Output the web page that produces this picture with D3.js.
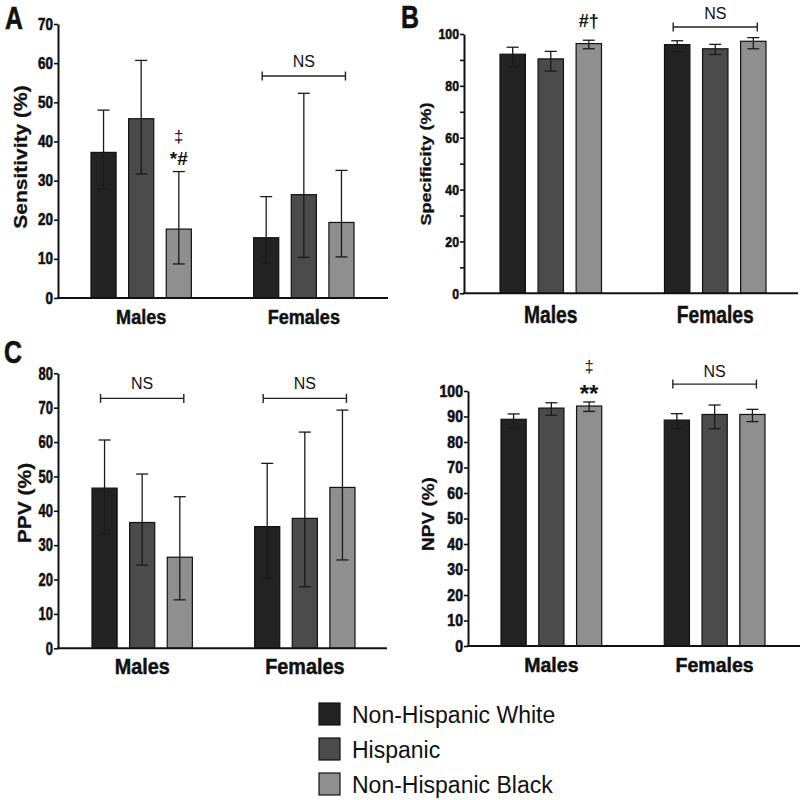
<!DOCTYPE html>
<html><head><meta charset="utf-8">
<script src="https://cdn.jsdelivr.net/npm/d3@7"></script>
<style>body{margin:0;background:#fff}svg{display:block}text{font-family:"Liberation Sans",Arial,sans-serif}</style>
</head><body><svg id="c" width="800" height="800"></svg>
<script>
// ---------- data ----------
const groups = ["Males", "Females"];
const races = ["Non-Hispanic White", "Hispanic", "Non-Hispanic Black"];
const raceColors = ["#232323", "#4b4b4b", "#8f8f8f"];

const sensitivity     = [[37.2, 45.8, 17.6], [15.4, 26.4, 19.3]];
const sensitivityLow  = [[27.8, 31.7,  8.7], [ 8.9, 10.4, 10.5]];
const sensitivityHigh = [[48.0, 60.7, 32.3], [25.9, 52.3, 32.6]];

const specificity     = [[92.2, 90.4, 96.3], [95.9, 94.3, 97.2]];
const specificityLow  = [[87.4, 85.7, 94.3], [93.2, 92.1, 94.3]];
const specificityHigh = [[94.9, 93.3, 97.6], [97.4, 96.0, 98.6]];

const ppv     = [[46.6, 36.6, 26.5], [35.4, 37.8, 46.8]];
const ppvLow  = [[33.3, 24.2, 14.1], [20.4, 17.9, 25.7]];
const ppvHigh = [[60.6, 50.7, 44.1], [53.8, 62.9, 69.3]];

const npv     = [[88.9, 93.3, 94.1], [88.6, 90.8, 90.8]];
const npvLow  = [[85.6, 90.5, 92.0], [85.2, 85.2, 88.0]];
const npvHigh = [[91.0, 95.4, 95.7], [91.1, 94.5, 92.8]];

const yTitles = ["Sensitivity (%)", "Specificity (%)", "PPV (%)", "NPV (%)"];
const panelLetters = ["A", "B", "", "C"];

// ---------- layout ----------
const svg = d3.select("#c");
const panels = [
  {vals: sensitivity, lo: sensitivityLow, hi: sensitivityHigh, title: yTitles[0], yMax: 70, step: 10, labStep: 10,
   ax0: 58, ax1: 388, yBot: 298, yTop: 24, b0: 91, b1: 354,
   tickFs: 16, tickSx: 0.84, titleFs: 21, titleX: 21, titleY: 157, xFs: 21, xSx: 0.86, xPad: 11,
   brackets: [{g: 1, y: 56.7, ty: 60.5}],
   notes: [{g: 0, b: 2, y: 41.3, t: "‡", fs: 17, w: "normal"}, {g: 0, b: 2, y: 35.8, t: "*#", fs: 19, w: "bold"}]},
  {vals: specificity, lo: specificityLow, hi: specificityHigh, title: yTitles[1], yMax: 100, step: 10, labStep: 20,
   ax0: 464, ax1: 798, yBot: 293.3, yTop: 34, b0: 500, b1: 766,
   tickFs: 15, tickSx: 0.82, titleFs: 18, titleX: 426, titleY: 164, xFs: 24, xSx: 0.8, xPad: 13,
   brackets: [{g: 1, y: 102.7, ty: 108}],
   notes: [{g: 0, b: 2, y: 105.3, t: "#†", fs: 18, w: "bold"}]},
  {vals: ppv, lo: ppvLow, hi: ppvHigh, title: yTitles[2], yMax: 80, step: 10, labStep: 10,
   ax0: 58, ax1: 387, yBot: 648.3, yTop: 373.3, b0: 92, b1: 355,
   tickFs: 18, tickSx: 0.72, titleFs: 21, titleX: 25, titleY: 503, xFs: 22, xSx: 0.9, xPad: 10,
   brackets: [{g: 0, y: 72.7, ty: 77}, {g: 1, y: 72.7, ty: 77}],
   notes: []},
  {vals: npv, lo: npvLow, hi: npvHigh, title: yTitles[3], yMax: 100, step: 10, labStep: 10,
   ax0: 468, ax1: 800, yBot: 646, yTop: 391, b0: 501, b1: 765,
   tickFs: 16, tickSx: 0.88, titleFs: 19, titleX: 428, titleY: 514, xFs: 21, xSx: 0.93, xPad: 11,
   brackets: [{g: 1, y: 102.7, ty: 107.5}],
   notes: [{g: 0, b: 2, y: 109.5, t: "‡", fs: 16, w: "normal"}, {g: 0, b: 2, y: 99.0, t: "**", fs: 24, w: "bold"}]}
];

function squeeze(sel, sx) {
  sel.each(function () {
    const t = d3.select(this);
    const x = +t.attr("x") || 0, y = +t.attr("y") || 0;
    t.attr("x", 0).attr("y", 0).attr("transform", `translate(${x},${y}) scale(${sx},1)`);
  });
}

panels.forEach(p => {
  const g = svg.append("g");
  const x = d3.scaleBand().domain(groups).range([p.b0, p.b1]).paddingInner(0.383).paddingOuter(0);
  const xi = d3.scaleBand().domain(d3.range(races.length)).range([0, x.bandwidth()]).paddingInner(0.333).paddingOuter(0);
  const y = d3.scaleLinear().domain([0, p.yMax]).range([p.yBot, p.yTop]);
  const cx = (gi, bi) => x(groups[gi]) + xi(bi) + xi.bandwidth() / 2;

  // bars
  groups.forEach((grp, gi) => {
    races.forEach((r, bi) => {
      g.append("rect")
        .attr("x", x(grp) + xi(bi)).attr("width", xi.bandwidth())
        .attr("y", y(p.vals[gi][bi])).attr("height", y(0) - y(p.vals[gi][bi]))
        .attr("fill", raceColors[bi]).attr("stroke", "#111").attr("stroke-width", 1.2);
      const c = cx(gi, bi);
      const eb = g.append("g").attr("stroke", "#1a1a1a").attr("stroke-width", 1.3).attr("fill", "none");
      eb.append("line").attr("x1", c).attr("x2", c).attr("y1", y(p.lo[gi][bi])).attr("y2", y(p.hi[gi][bi]));
      eb.append("line").attr("x1", c - 6).attr("x2", c + 6).attr("y1", y(p.hi[gi][bi])).attr("y2", y(p.hi[gi][bi]));
      eb.append("line").attr("x1", c - 6).attr("x2", c + 6).attr("y1", y(p.lo[gi][bi])).attr("y2", y(p.lo[gi][bi]));
    });
  });

  // y axis
  const ya = g.append("g").attr("transform", `translate(${p.ax0},0)`)
    .call(d3.axisLeft(y).tickValues(d3.range(0, p.yMax + 0.1, p.step))
      .tickFormat(d => d % p.labStep === 0 ? d : "").tickSize(4).tickSizeOuter(0).tickPadding(1));
  ya.select(".domain").attr("stroke", "#111").attr("stroke-width", 2);
  ya.selectAll(".tick line").attr("stroke", "#111").attr("stroke-width", 1.6);
  ya.selectAll(".tick text").attr("fill", "#111").attr("font-size", p.tickFs).attr("font-weight", "bold")
    .attr("stroke", "#111").attr("stroke-width", 0.6)
    .attr("font-family", "Liberation Sans, Arial, sans-serif");
  squeeze(ya.selectAll(".tick text"), p.tickSx);

  // x axis
  g.append("line").attr("x1", p.ax0 - 1).attr("x2", p.ax1).attr("y1", y(0)).attr("y2", y(0))
    .attr("stroke", "#111").attr("stroke-width", 2);
  const xa = g.append("g").attr("transform", `translate(0,${y(0)})`)
    .call(d3.axisBottom(x).tickSize(0).tickPadding(p.xPad));
  xa.select(".domain").remove();
  xa.selectAll(".tick text").attr("fill", "#111").attr("font-size", p.xFs).attr("font-weight", "bold")
    .attr("stroke", "#111").attr("stroke-width", 0.5)
    .attr("font-family", "Liberation Sans, Arial, sans-serif");
  squeeze(xa.selectAll(".tick text"), p.xSx);

  // y title
  g.append("text").attr("transform", `translate(${p.titleX},${p.titleY}) rotate(-90) scale(1,0.85)`)
    .attr("text-anchor", "middle").attr("dy", "0.35em")
    .attr("stroke", "#111").attr("stroke-width", 0.3)
    .attr("font-size", p.titleFs).attr("font-weight", "bold").attr("fill", "#111").text(p.title);

  // NS brackets
  p.brackets.forEach(b => {
    const xl = cx(b.g, 0) - 4, xr = cx(b.g, 2) + 4, yy = y(b.y);
    const bg = g.append("g").attr("stroke", "#222").attr("stroke-width", 1.4);
    bg.append("line").attr("x1", xl).attr("x2", xr).attr("y1", yy).attr("y2", yy);
    bg.append("line").attr("x1", xl).attr("x2", xl).attr("y1", yy - 4.5).attr("y2", yy + 4.5);
    bg.append("line").attr("x1", xr).attr("x2", xr).attr("y1", yy - 4.5).attr("y2", yy + 4.5);
    g.append("text").attr("x", (xl + xr) / 2).attr("y", y(b.ty)).attr("dy", "0.35em")
      .attr("text-anchor", "middle").attr("font-size", 16).attr("fill", "#111").text("NS");
  });

  // significance notes
  p.notes.forEach(n => {
    g.append("text").attr("x", cx(n.g, n.b)).attr("y", y(n.y)).attr("dy", "0.35em")
      .attr("text-anchor", "middle").attr("font-size", n.fs).attr("font-weight", n.w)
      .attr("fill", "#111").text(n.t);
  });
});

// panel letters
const letterPos = [[5, 29], [401, 28], null, [4, 363]];
panelLetters.forEach((L, i) => {
  if (!L) return;
  svg.append("text").attr("transform", `translate(${letterPos[i][0]},${letterPos[i][1]}) scale(0.8,1)`)
    .attr("font-size", 31).attr("font-weight", "bold").attr("fill", "#111")
    .attr("stroke", "#111").attr("stroke-width", 0.6).text(L);
});

// legend
const lg = svg.append("g").attr("transform", "translate(319,703)");
races.forEach((r, i) => {
  const row = lg.append("g").attr("transform", `translate(0,${i * 35})`);
  row.append("rect").attr("width", 21).attr("height", 22).attr("fill", raceColors[i])
    .attr("stroke", "#111").attr("stroke-width", 1.2);
  row.append("text").attr("x", 33).attr("y", 20).attr("font-size", 23).attr("fill", "#111").text(r);
});
</script></body></html>
